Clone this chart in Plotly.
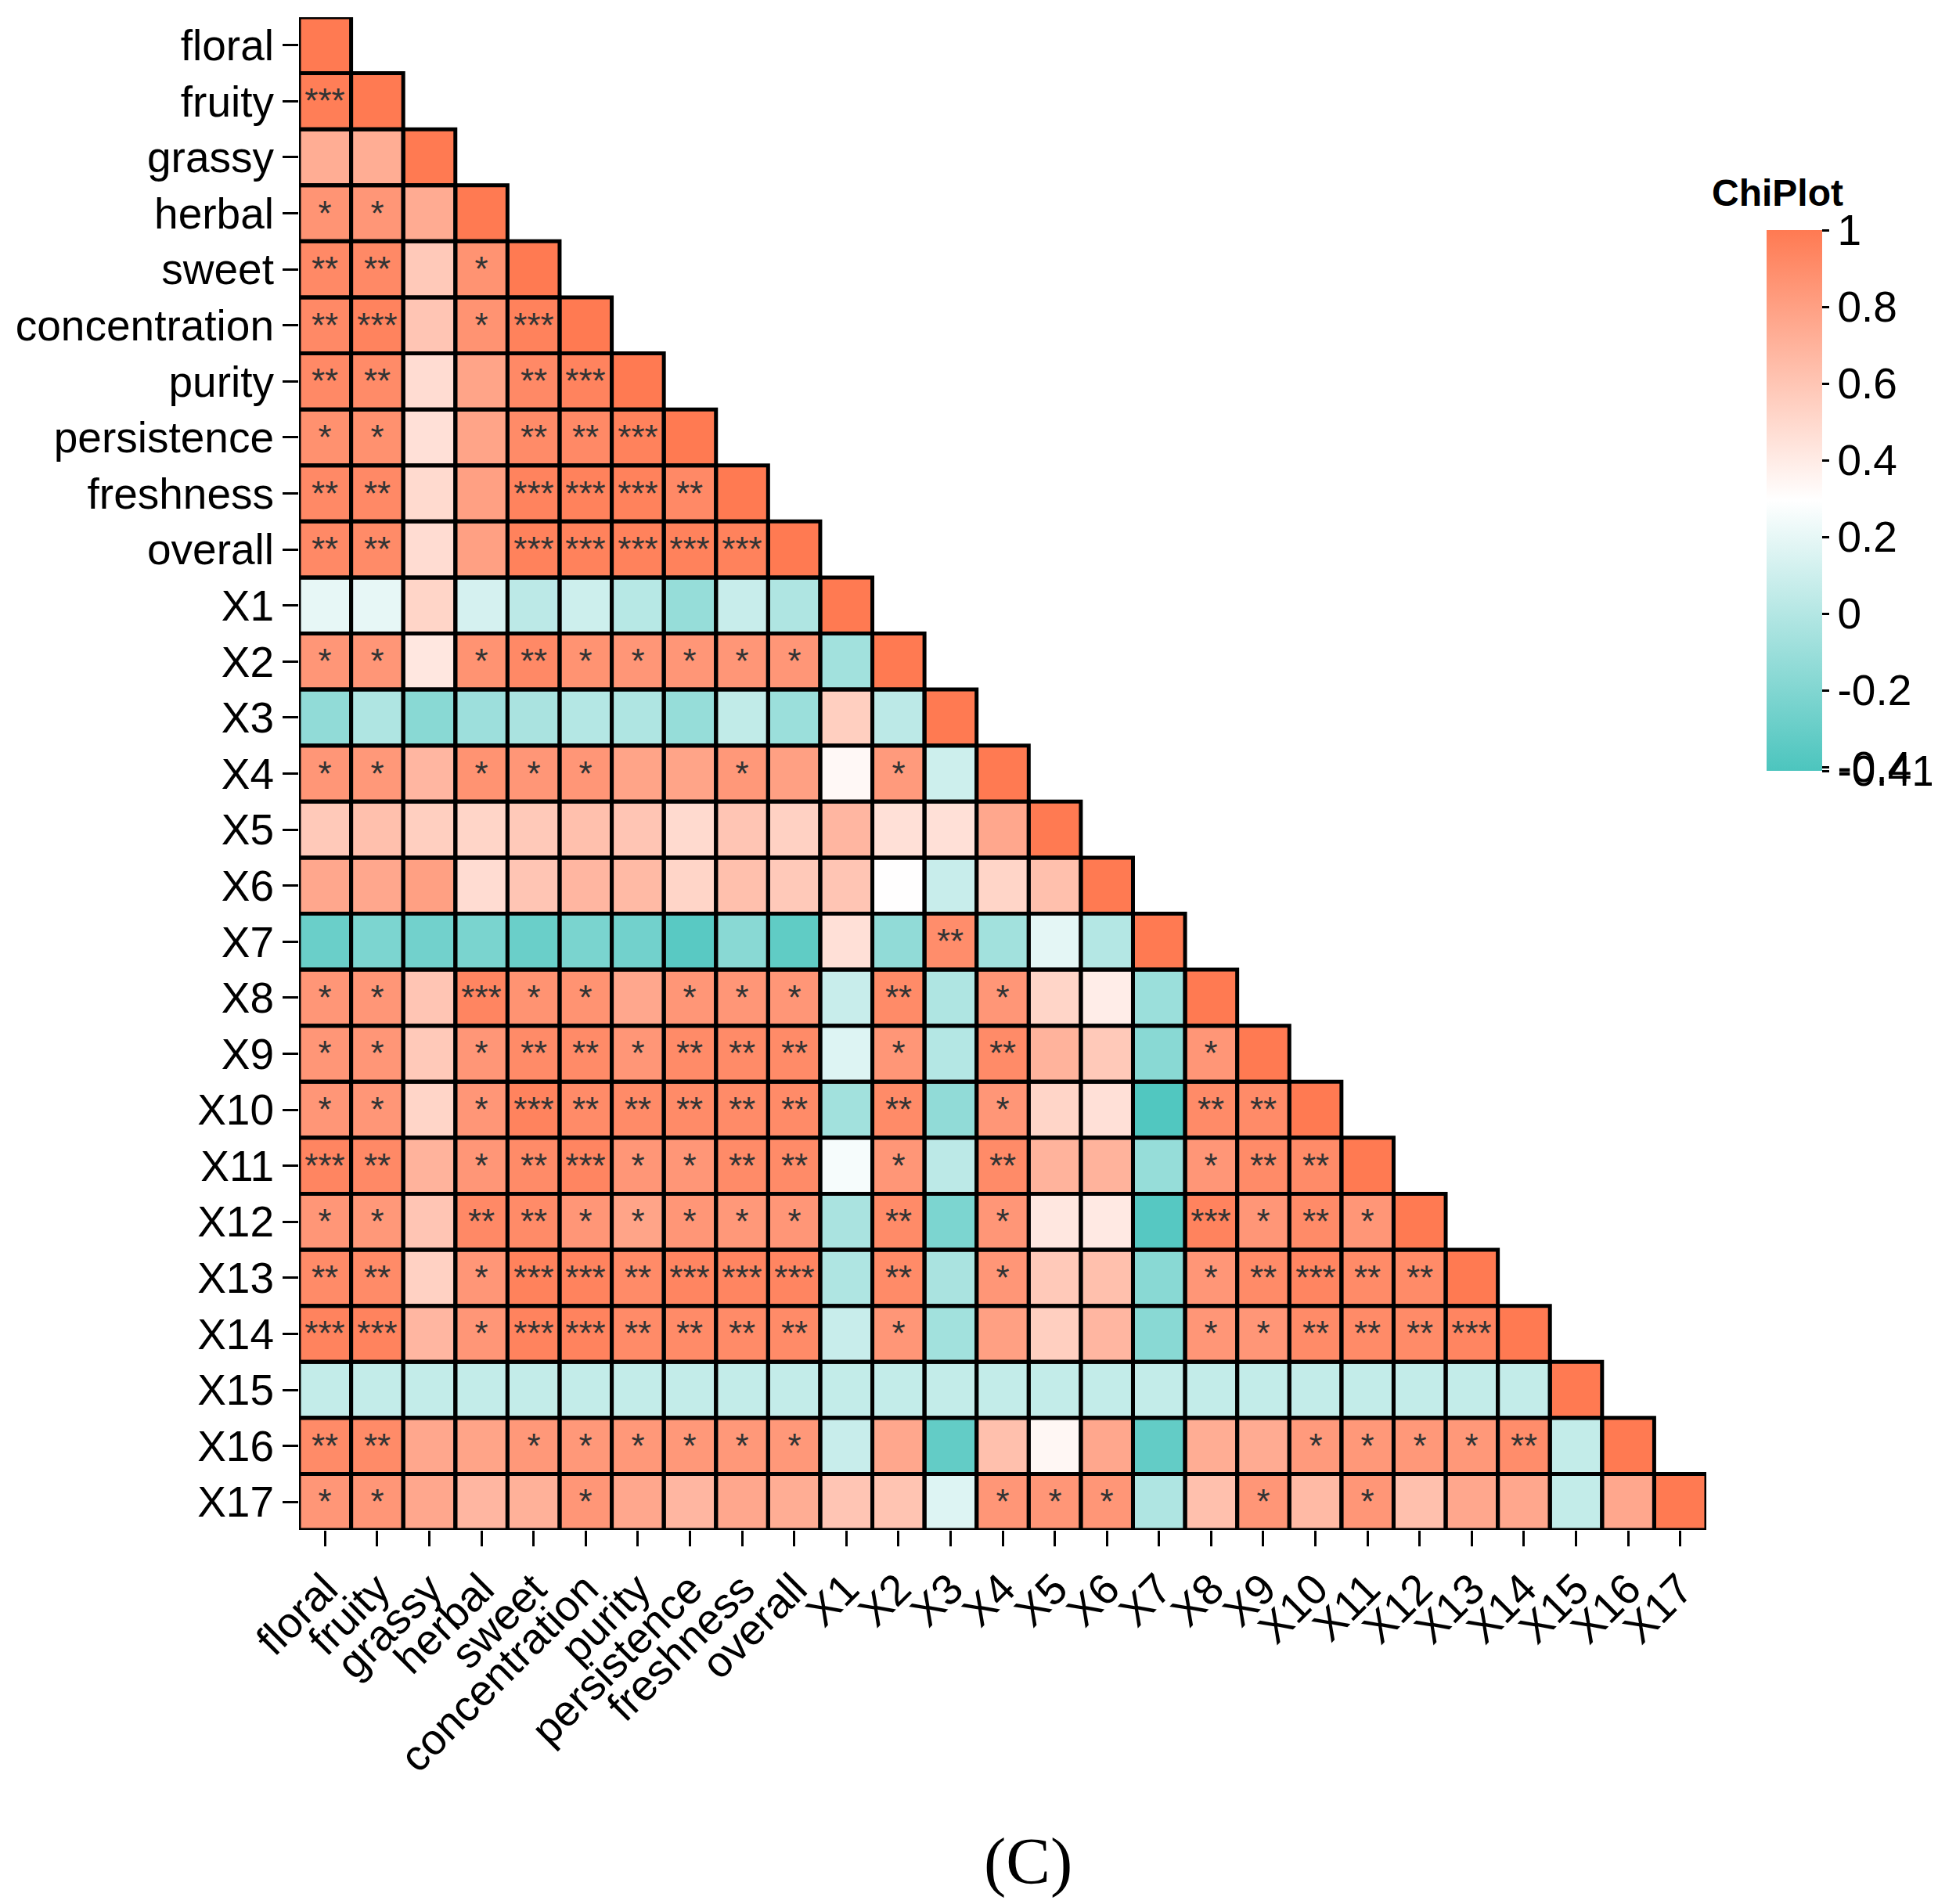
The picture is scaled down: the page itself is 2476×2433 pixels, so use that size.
import plotly.graph_objects as go

# variable names (rows top->bottom, columns left->right)
labels = ["floral", "fruity", "grassy", "herbal", "sweet", "concentration",
          "purity", "persistence", "freshness", "overall",
          "X1", "X2", "X3", "X4", "X5", "X6", "X7", "X8", "X9",
          "X10", "X11", "X12", "X13", "X14", "X15", "X16", "X17"]

# lower-triangle correlation values, one list per row
r_floral = [1]
r_fruity = [0.98, 1]
r_grassy = [0.73, 0.73, 1]
r_herbal = [0.86, 0.85, 0.74, 1]
r_sweet = [0.92, 0.92, 0.58, 0.87, 1]
r_concentration = [0.92, 0.95, 0.60, 0.87, 0.96, 1]
r_purity = [0.92, 0.91, 0.48, 0.78, 0.92, 0.95, 1]
r_persistence = [0.88, 0.88, 0.46, 0.78, 0.91, 0.92, 0.96, 1]
r_freshness = [0.92, 0.92, 0.49, 0.80, 0.95, 0.96, 0.96, 0.92, 1]
r_overall = [0.92, 0.91, 0.48, 0.80, 0.96, 0.96, 0.96, 0.96, 0.96, 1]
r_X1 = [0.20, 0.20, 0.52, 0.13, 0.03, 0.10, 0.01, -0.12, 0.08, -0.02, 1]
r_X2 = [0.85, 0.85, 0.42, 0.87, 0.92, 0.87, 0.85, 0.85, 0.85, 0.85, -0.07, 1]
r_X3 = [-0.14, -0.02, -0.17, -0.09, -0.04, 0.00, -0.02, -0.12, 0.05, -0.10,
        0.55, 0.03, 1]
r_X4 = [0.85, 0.84, 0.68, 0.87, 0.85, 0.85, 0.78, 0.78, 0.84, 0.80,
        0.33, 0.83, 0.10, 1]
r_X5 = [0.58, 0.63, 0.55, 0.52, 0.58, 0.63, 0.60, 0.49, 0.60, 0.54,
        0.68, 0.46, 0.46, 0.76, 1]
r_X6 = [0.76, 0.76, 0.80, 0.48, 0.60, 0.68, 0.66, 0.52, 0.63, 0.58,
        0.60, 0.30, 0.08, 0.52, 0.63, 1]
r_X7 = [-0.29, -0.22, -0.26, -0.23, -0.29, -0.23, -0.26, -0.36, -0.17, -0.33,
        0.46, -0.14, 0.90, -0.07, 0.19, 0.00, 1]
r_X8 = [0.85, 0.85, 0.60, 0.94, 0.87, 0.87, 0.76, 0.85, 0.85, 0.85,
        0.08, 0.91, -0.02, 0.85, 0.52, 0.39, -0.10, 1]
r_X9 = [0.85, 0.85, 0.58, 0.85, 0.91, 0.91, 0.85, 0.91, 0.91, 0.91,
        0.16, 0.85, 0.00, 0.91, 0.70, 0.58, -0.17, 0.85, 1]
r_X10 = [0.85, 0.85, 0.52, 0.85, 0.95, 0.91, 0.91, 0.91, 0.91, 0.91,
         -0.07, 0.91, -0.14, 0.85, 0.52, 0.46, -0.39, 0.91, 0.91, 1]
r_X11 = [0.94, 0.92, 0.70, 0.85, 0.91, 0.94, 0.85, 0.85, 0.91, 0.91,
         0.26, 0.85, 0.03, 0.91, 0.70, 0.70, -0.12, 0.85, 0.91, 0.91, 1]
r_X12 = [0.85, 0.84, 0.60, 0.92, 0.91, 0.85, 0.78, 0.85, 0.84, 0.85,
         -0.04, 0.91, -0.22, 0.85, 0.42, 0.41, -0.37, 0.95, 0.85, 0.91, 0.85, 1]
r_X13 = [0.91, 0.91, 0.54, 0.85, 0.96, 0.95, 0.91, 0.94, 0.94, 0.94,
         -0.02, 0.91, -0.04, 0.85, 0.58, 0.63, -0.17, 0.85, 0.91, 0.94, 0.91,
         0.91, 1]
r_X14 = [0.95, 0.95, 0.68, 0.85, 0.95, 0.95, 0.91, 0.91, 0.91, 0.91,
         0.08, 0.85, -0.07, 0.80, 0.55, 0.68, -0.17, 0.85, 0.85, 0.91, 0.91,
         0.91, 0.94, 1]
r_X15 = [0.06, 0.06, 0.06, 0.06, 0.06, 0.06, 0.06, 0.06, 0.06, 0.06,
         0.06, 0.06, 0.06, 0.06, 0.06, 0.06, 0.06, 0.06, 0.06, 0.06, 0.06,
         0.06, 0.06, 0.06, 1]
r_X16 = [0.91, 0.91, 0.76, 0.78, 0.84, 0.84, 0.84, 0.84, 0.84, 0.84,
         0.08, 0.76, -0.32, 0.63, 0.34, 0.76, -0.32, 0.73, 0.74, 0.83, 0.84,
         0.84, 0.84, 0.90, 0.06, 1]
r_X17 = [0.85, 0.85, 0.76, 0.68, 0.71, 0.85, 0.76, 0.68, 0.76, 0.73,
         0.60, 0.61, 0.16, 0.85, 0.85, 0.85, -0.02, 0.63, 0.85, 0.66, 0.85,
         0.63, 0.76, 0.76, 0.06, 0.76, 1]

rows = [r_floral, r_fruity, r_grassy, r_herbal, r_sweet, r_concentration,
        r_purity, r_persistence, r_freshness, r_overall,
        r_X1, r_X2, r_X3, r_X4, r_X5, r_X6, r_X7, r_X8, r_X9, r_X10,
        r_X11, r_X12, r_X13, r_X14, r_X15, r_X16, r_X17]

# significance marks, same layout
s_floral = [""]
s_fruity = ["***", ""]
s_grassy = ["", "", ""]
s_herbal = ["*", "*", "", ""]
s_sweet = ["**", "**", "", "*", ""]
s_concentration = ["**", "***", "", "*", "***", ""]
s_purity = ["**", "**", "", "", "**", "***", ""]
s_persistence = ["*", "*", "", "", "**", "**", "***", ""]
s_freshness = ["**", "**", "", "", "***", "***", "***", "**", ""]
s_overall = ["**", "**", "", "", "***", "***", "***", "***", "***", ""]
s_X1 = ["", "", "", "", "", "", "", "", "", "", ""]
s_X2 = ["*", "*", "", "*", "**", "*", "*", "*", "*", "*", "", ""]
s_X3 = ["", "", "", "", "", "", "", "", "", "", "", "", ""]
s_X4 = ["*", "*", "", "*", "*", "*", "", "", "*", "", "", "*", "", ""]
s_X5 = ["", "", "", "", "", "", "", "", "", "", "", "", "", "", ""]
s_X6 = ["", "", "", "", "", "", "", "", "", "", "", "", "", "", "", ""]
s_X7 = ["", "", "", "", "", "", "", "", "", "", "", "", "**", "", "", "", ""]
s_X8 = ["*", "*", "", "***", "*", "*", "", "*", "*", "*",
        "", "**", "", "*", "", "", "", ""]
s_X9 = ["*", "*", "", "*", "**", "**", "*", "**", "**", "**",
        "", "*", "", "**", "", "", "", "*", ""]
s_X10 = ["*", "*", "", "*", "***", "**", "**", "**", "**", "**",
         "", "**", "", "*", "", "", "", "**", "**", ""]
s_X11 = ["***", "**", "", "*", "**", "***", "*", "*", "**", "**",
         "", "*", "", "**", "", "", "", "*", "**", "**", ""]
s_X12 = ["*", "*", "", "**", "**", "*", "*", "*", "*", "*",
         "", "**", "", "*", "", "", "", "***", "*", "**", "*", ""]
s_X13 = ["**", "**", "", "*", "***", "***", "**", "***", "***", "***",
         "", "**", "", "*", "", "", "", "*", "**", "***", "**", "**", ""]
s_X14 = ["***", "***", "", "*", "***", "***", "**", "**", "**", "**",
         "", "*", "", "", "", "", "", "*", "*", "**", "**", "**", "***", ""]
s_X15 = ["", "", "", "", "", "", "", "", "", "", "", "", "", "", "", "",
         "", "", "", "", "", "", "", "", ""]
s_X16 = ["**", "**", "", "", "*", "*", "*", "*", "*", "*",
         "", "", "", "", "", "", "", "", "", "*", "*", "*", "*", "**", "", ""]
s_X17 = ["*", "*", "", "", "", "*", "", "", "", "",
         "", "", "", "*", "*", "*", "", "", "*", "", "*", "", "", "", "", "", ""]

stars = [s_floral, s_fruity, s_grassy, s_herbal, s_sweet, s_concentration,
         s_purity, s_persistence, s_freshness, s_overall,
         s_X1, s_X2, s_X3, s_X4, s_X5, s_X6, s_X7, s_X8, s_X9, s_X10,
         s_X11, s_X12, s_X13, s_X14, s_X15, s_X16, s_X17]

cbar_vals = [1, 0.8, 0.6, 0.4, 0.2, 0, -0.2, -0.4, -0.41]
cbar_text = ["1", "0.8", "0.6", "0.4", "0.2", "0", "-0.2", "-0.4", "-0.41"]

n = len(labels)
z = [row + [None] * (n - len(row)) for row in rows]
txt = [row + [""] * (n - len(row)) for row in stars]

FONT = "Liberation Sans, Arial, sans-serif"

fig = go.Figure()
fig.add_trace(go.Heatmap(
    z=z, x=labels, y=labels, text=txt, texttemplate="%{text}",
    textfont=dict(size=44, color="#333333", family=FONT),
    zmin=-0.41, zmax=1,
    colorscale=[[0, "#4CC5BE"], [0.5, "#FFFFFF"], [1, "#FF7A52"]],
    hoverongaps=False,
    colorbar=dict(
        tickvals=cbar_vals, ticktext=cbar_text,
        tickfont=dict(size=55, color="black", family=FONT),
        ticks="outside", ticklen=9, tickwidth=3, tickcolor="black",
        outlinewidth=0, thickness=71,
        lenmode="pixels", len=711, ypad=10,
        x=1.0373, xanchor="left", y=0.4966, yanchor="bottom",
    ),
))

# black cell borders for the lower triangle
for i in range(n):
    for j in range(len(rows[i])):
        fig.add_shape(type="rect", xref="x", yref="y",
                      x0=j - 0.5, x1=j + 0.5, y0=i - 0.5, y1=i + 0.5,
                      line=dict(color="black", width=5), layer="above")

# colorbar heading
fig.add_annotation(text="<b>ChiPlot</b>", xref="paper", yref="paper",
                   x=1.0506, y=0.884, xanchor="center", yanchor="middle",
                   showarrow=False,
                   font=dict(size=48, color="black", family=FONT))

fig.add_annotation(text="(C)", xref="paper", yref="paper",
                   x=0.518, y=-0.219, xanchor="center", yanchor="middle",
                   showarrow=False,
                   font=dict(size=85, color="black",
                             family="Liberation Serif, Times New Roman, serif"))

fig.update_xaxes(type="category", range=[-0.5, n - 0.5], tickangle=-45,
                 ticks="outside", ticklen=20, tickwidth=3, tickcolor="black",
                 showgrid=False, zeroline=False, showline=False,
                 tickfont=dict(size=55, color="black", family=FONT))
fig.update_yaxes(type="category", range=[n - 0.5, -0.5],
                 ticks="outside", ticklen=20, tickwidth=3, tickcolor="black",
                 showgrid=False, zeroline=False, showline=False,
                 tickfont=dict(size=55, color="black", family=FONT))

fig.update_layout(
    width=2476, height=2433,
    margin=dict(l=374, r=304, t=14, b=486, autoexpand=False),
    plot_bgcolor="white", paper_bgcolor="white",
    font=dict(family=FONT),
)

fig.write_html("out.html")
